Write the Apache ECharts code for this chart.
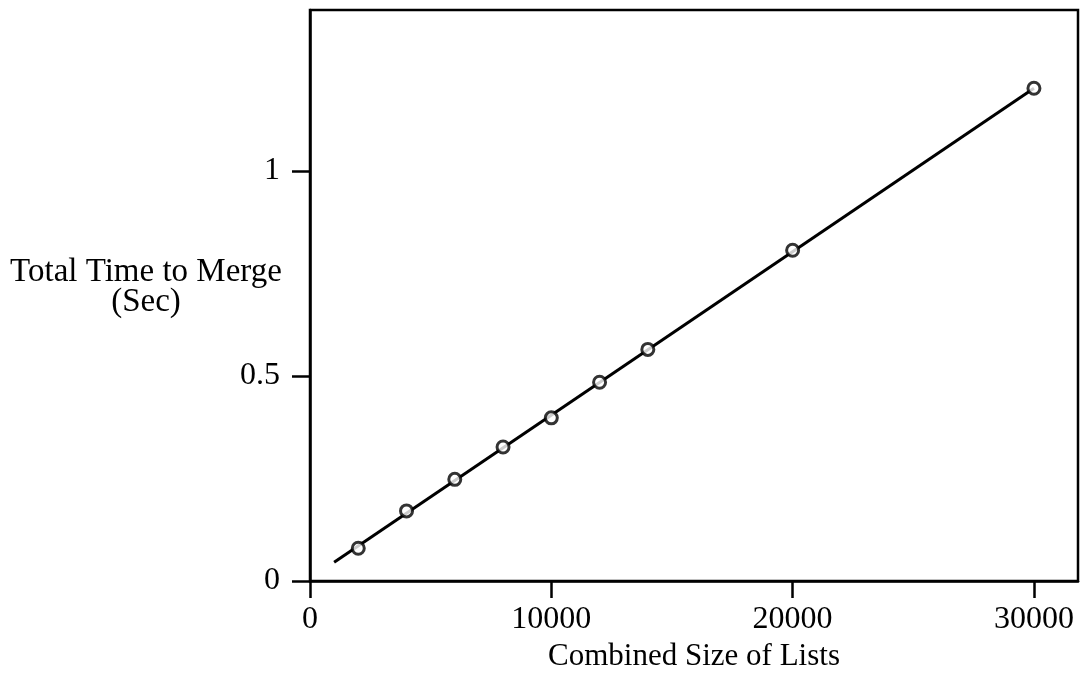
<!DOCTYPE html>
<html>
<head>
<meta charset="utf-8">
<script src="https://cdn.jsdelivr.net/npm/echarts@6/dist/echarts.min.js"></script>
<style>
  html, body { margin: 0; padding: 0; background: #fff; }
  #chart { width: 1083px; height: 677px; }
</style>
</head>
<body>
<div id="chart"></div>
<script>
// Merge timing measurements: combined list size vs. total time (seconds)
const listSizes = [2000, 4000, 6000, 8000, 10000, 12000, 14000, 20000, 30000];
const mergeTimes = [0.080, 0.171, 0.248, 0.327, 0.398, 0.485, 0.565, 0.807, 1.202];

// Least-squares fit line end points
const fitSizes = [1000, 30000];
const fitTimes = [0.046, 1.202];

// Tick positions and labels
const xTicks = [0, 10000, 20000, 30000];
const xTickLabels = ['0', '10000', '20000', '30000'];
const yTicks = [0, 0.5, 1];
const yTickLabels = ['0', '0.5', '1'];

const yTitle = 'Total Time to Merge\n(Sec)';
const xTitle = 'Combined Size of Lists';

const serif = '"Liberation Serif", "DejaVu Serif", serif';

const chart = echarts.init(document.getElementById('chart'), null, { renderer: 'canvas' });

chart.setOption({
  animation: false,
  backgroundColor: '#ffffff',
  grid: {
    left: 310, top: 10, right: 5, bottom: 96,
    containLabel: false,
    outerBoundsMode: 'none',
    show: true, borderColor: '#000', borderWidth: 2.5, backgroundColor: 'transparent'
  },
  // y-axis title sits horizontally to the left of the plot, lines centred
  graphic: [{
    type: 'text',
    x: 146, y: 287,
    style: {
      text: yTitle,
      align: 'center',
      verticalAlign: 'middle',
      font: '33px ' + serif,
      lineHeight: 30,
      fill: '#000'
    }
  }],
  xAxis: {
    type: 'value',
    min: 0, max: 31826,
    name: xTitle,
    nameLocation: 'middle',
    nameGap: 60,
    nameTextStyle: { fontFamily: serif, fontSize: 31, color: '#000' },
    axisLine: { show: true, onZero: false, lineStyle: { color: '#000', width: 2.5 } },
    axisTick: { show: true, inside: false, length: 17, customValues: xTicks, lineStyle: { color: '#000', width: 2.5 } },
    axisLabel: {
      customValues: xTicks, margin: 23,
      fontFamily: serif, fontSize: 32, color: '#000',
      formatter: v => xTickLabels[xTicks.indexOf(v)] ?? ''
    },
    splitLine: { show: false }
  },
  yAxis: {
    type: 'value',
    min: 0, max: 1.393,
    axisLine: { show: true, onZero: false, lineStyle: { color: '#000', width: 2.5 } },
    axisTick: { show: true, inside: false, length: 18, customValues: yTicks, lineStyle: { color: '#000', width: 2.5 } },
    axisLabel: {
      customValues: yTicks, margin: 30,
      fontFamily: serif, fontSize: 32, color: '#000',
      formatter: v => yTickLabels[yTicks.indexOf(v)] ?? ''
    },
    splitLine: { show: false }
  },
  series: [
    {
      name: 'fit',
      type: 'line',
      data: fitSizes.map((x, i) => [x, fitTimes[i]]),
      showSymbol: false,
      symbol: 'none',
      lineStyle: { color: '#000', width: 3 },
      z: 2
    },
    {
      name: 'measured',
      type: 'scatter',
      data: listSizes.map((x, i) => [x, mergeTimes[i]]),
      symbol: 'circle',
      symbolSize: 12,
      itemStyle: { color: '#fff', borderColor: '#000', borderWidth: 3 },
      z: 3
    }
  ]
});
</script>
</body>
</html>
